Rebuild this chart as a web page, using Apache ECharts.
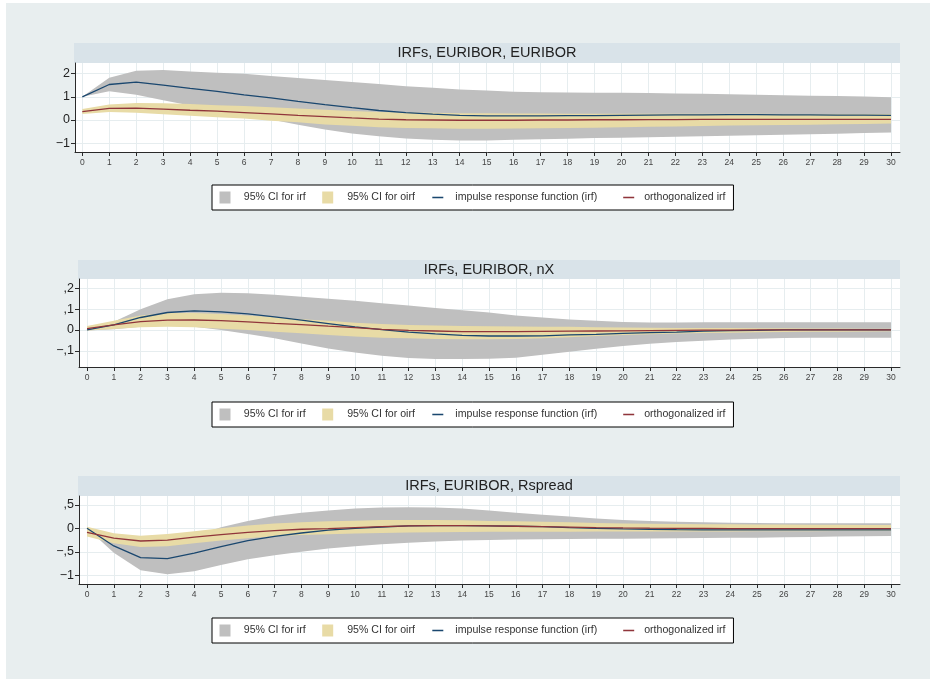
<!DOCTYPE html>
<html>
<head>
<meta charset="utf-8">
<script src="https://cdn.jsdelivr.net/npm/echarts@6/dist/echarts.min.js"></script>
<style>
  html, body { margin: 0; padding: 0; background: #ffffff; }
  #c { width: 930px; height: 679px; }
</style>
</head>
<body>
<div id="c"></div>
<script>
// Impulse-response horizon (steps)
const steps = [0,1,2,3,4,5,6,7,8,9,10,11,12,13,14,15,16,17,18,19,20,21,22,23,24,25,26,27,28,29,30];

// Legend entries
const legendNames = ['95% CI for irf', '95% CI for oirf', 'impulse response function (irf)', 'orthogonalized irf'];

// Panel 1: IRFs, EURIBOR, EURIBOR
const titleEE = 'IRFs, EURIBOR, EURIBOR';
const irfEE    = [1.00,1.53,1.63,1.50,1.36,1.23,1.08,0.95,0.80,0.66,0.53,0.41,0.32,0.25,0.20,0.18,0.18,0.18,0.19,0.19,0.20,0.21,0.22,0.22,0.23,0.23,0.22,0.22,0.21,0.21,0.20];
const irfHiEE  = [1.00,1.82,2.12,2.15,2.09,2.04,1.99,1.90,1.81,1.72,1.64,1.55,1.46,1.39,1.31,1.27,1.22,1.20,1.19,1.18,1.17,1.16,1.14,1.13,1.11,1.09,1.07,1.05,1.03,1.01,0.98];
const irfLoEE  = [1.00,1.24,1.09,0.85,0.62,0.42,0.22,0.02,-0.20,-0.41,-0.58,-0.70,-0.80,-0.85,-0.88,-0.88,-0.85,-0.83,-0.81,-0.78,-0.76,-0.74,-0.72,-0.70,-0.68,-0.66,-0.64,-0.61,-0.59,-0.56,-0.54];
const oirfEE   = [0.36,0.50,0.51,0.47,0.42,0.38,0.32,0.26,0.20,0.15,0.09,0.04,0.01,0.00,-0.01,-0.01,-0.01,0.00,0.00,0.01,0.01,0.02,0.02,0.03,0.03,0.03,0.03,0.03,0.03,0.03,0.03];
const oirfHiEE = [0.47,0.67,0.73,0.72,0.69,0.64,0.60,0.55,0.50,0.44,0.39,0.35,0.32,0.31,0.29,0.29,0.28,0.28,0.27,0.27,0.27,0.27,0.27,0.27,0.27,0.27,0.26,0.26,0.26,0.26,0.26];
const oirfLoEE = [0.26,0.34,0.31,0.25,0.18,0.12,0.06,-0.03,-0.10,-0.19,-0.25,-0.31,-0.34,-0.36,-0.38,-0.38,-0.37,-0.36,-0.34,-0.33,-0.31,-0.29,-0.28,-0.26,-0.24,-0.23,-0.21,-0.20,-0.18,-0.17,-0.15];
const yTicksEE = [-1, 0, 1, 2];
const yTextEE  = ['\u22121', '0', '1', '2'];

// Panel 2: IRFs, EURIBOR, nX
const titleEX = 'IRFs, EURIBOR, nX';
const irfEX    = [0.000,0.024,0.060,0.084,0.092,0.087,0.077,0.063,0.047,0.031,0.015,0.002,-0.010,-0.019,-0.026,-0.029,-0.029,-0.028,-0.024,-0.021,-0.016,-0.013,-0.010,-0.006,-0.003,-0.002,0.000,0.000,0.000,0.000,0.000];
const irfHiEX  = [0.008,0.040,0.100,0.148,0.172,0.179,0.177,0.169,0.160,0.150,0.140,0.129,0.118,0.106,0.095,0.084,0.070,0.060,0.050,0.044,0.038,0.036,0.036,0.037,0.037,0.037,0.037,0.037,0.037,0.037,0.037];
const irfLoEX  = [-0.003,0.003,0.016,0.023,0.016,0.000,-0.019,-0.040,-0.065,-0.089,-0.108,-0.124,-0.135,-0.140,-0.140,-0.138,-0.134,-0.119,-0.105,-0.090,-0.077,-0.066,-0.058,-0.052,-0.046,-0.042,-0.039,-0.038,-0.037,-0.037,-0.037];
const oirfEX   = [0.006,0.024,0.040,0.047,0.048,0.045,0.039,0.032,0.026,0.018,0.011,0.003,-0.002,-0.005,-0.008,-0.008,-0.008,-0.007,-0.006,-0.005,-0.004,-0.003,-0.002,-0.001,-0.001,0.000,0.000,0.000,0.000,0.000,0.000];
const oirfHiEX = [0.019,0.044,0.069,0.081,0.082,0.077,0.069,0.061,0.052,0.044,0.035,0.029,0.024,0.021,0.019,0.018,0.017,0.016,0.015,0.013,0.012,0.011,0.010,0.009,0.009,0.008,0.008,0.007,0.007,0.006,0.006];
const oirfLoEX = [-0.003,0.005,0.013,0.016,0.013,0.006,0.000,-0.008,-0.016,-0.024,-0.031,-0.037,-0.040,-0.044,-0.045,-0.045,-0.044,-0.040,-0.035,-0.029,-0.024,-0.020,-0.017,-0.015,-0.013,-0.011,-0.010,-0.009,-0.008,-0.007,-0.006];
const yTicksEX = [-0.1, 0, 0.1, 0.2];
const yTextEX  = ['\u2212,1', '0', ',1', ',2'];

// Panel 3: IRFs, EURIBOR, Rspread
const titleER = 'IRFs, EURIBOR, Rspread';
const irfER    = [0.000,-0.376,-0.624,-0.645,-0.530,-0.390,-0.260,-0.170,-0.100,-0.040,0.000,0.028,0.050,0.057,0.057,0.050,0.043,0.035,0.014,0.000,-0.014,-0.020,-0.028,-0.032,-0.035,-0.035,-0.035,-0.035,-0.035,-0.035,-0.035];
const irfHiER  = [0.000,-0.200,-0.320,-0.330,-0.170,0.020,0.156,0.260,0.330,0.380,0.420,0.440,0.450,0.440,0.420,0.380,0.330,0.290,0.250,0.210,0.177,0.156,0.140,0.128,0.120,0.110,0.106,0.106,0.106,0.106,0.106];
const irfLoER  = [0.000,-0.520,-0.890,-0.980,-0.915,-0.780,-0.660,-0.575,-0.500,-0.430,-0.380,-0.340,-0.305,-0.280,-0.260,-0.250,-0.240,-0.234,-0.230,-0.225,-0.220,-0.215,-0.210,-0.207,-0.203,-0.200,-0.193,-0.185,-0.177,-0.170,-0.163];
const oirfER   = [-0.085,-0.210,-0.270,-0.250,-0.190,-0.135,-0.085,-0.050,-0.020,-0.007,0.014,0.035,0.050,0.057,0.057,0.050,0.043,0.035,0.025,0.015,0.007,0.003,0.000,-0.003,-0.005,-0.007,-0.007,-0.007,-0.007,-0.007,-0.007];
const oirfHiER = [0.035,-0.106,-0.156,-0.120,-0.064,0.000,0.057,0.100,0.128,0.150,0.163,0.177,0.177,0.177,0.170,0.156,0.148,0.140,0.130,0.115,0.100,0.095,0.090,0.088,0.085,0.082,0.080,0.077,0.075,0.072,0.070];
const oirfLoER = [-0.177,-0.320,-0.400,-0.380,-0.320,-0.260,-0.210,-0.170,-0.140,-0.128,-0.113,-0.100,-0.092,-0.085,-0.078,-0.075,-0.073,-0.072,-0.071,-0.070,-0.070,-0.069,-0.068,-0.067,-0.066,-0.064,-0.062,-0.061,-0.059,-0.058,-0.057];
const yTicksER = [-1, -0.5, 0, 0.5];
const yTextER  = ['\u22121', '\u2212,5', '0', ',5'];

// ---- styling ----
const FONT = '"Liberation Sans", Arial, Helvetica, sans-serif';
const C_BG = '#e8eeef';
const C_BAR = '#d9e3e9';
const C_GRID = '#e6edef';
const C_AXIS = '#2a2a2a';
const C_IRF_CI = '#bfbfbf';
const C_OIRF_CI = '#e8dba6';
const C_IRF = '#1a476f';
const C_OIRF = '#90353b';

const panels = [
  { title: titleEE, irf: irfEE, lo: irfLoEE, hi: irfHiEE, oirf: oirfEE, olo: oirfLoEE, ohi: oirfHiEE,
    ticks: yTicksEE, text: yTextEE, yMin: -1.379, yMax: 2.457,
    top: 63, height: 89, left: 75, xMin: -0.271, xMax: 30.333, barTop: 43, legendTop: 185 },
  { title: titleEX, irf: irfEX, lo: irfLoEX, hi: irfHiEX, oirf: oirfEX, olo: oirfLoEX, ohi: oirfHiEX,
    ticks: yTicksEX, text: yTextEX, yMin: -0.178, yMax: 0.245,
    top: 279, height: 88, left: 79, xMin: -0.2985, xMax: 30.336, barTop: 260, legendTop: 402 },
  { title: titleER, irf: irfER, lo: irfLoER, hi: irfHiER, oirf: oirfER, olo: oirfLoER, ohi: oirfHiER,
    ticks: yTicksER, text: yTextER, yMin: -1.185, yMax: 0.687,
    top: 496, height: 88, left: 79, xMin: -0.2985, xMax: 30.336, barTop: 476, legendTop: 618 }
];
const RIGHT_EDGE = 900;

const pairs = (vals) => steps.map((s, i) => [s, vals[i]]);

// confidence band: one filled polygon (upper edge forward, lower edge back)
function bandSeries(i, name, lo, hi, color) {
  const rows = steps.map((s, k) => [s, lo[k], hi[k]]);
  return {
    type: 'custom', name: name, xAxisIndex: i, yAxisIndex: i, silent: true, animation: false,
    itemStyle: { color: color },
    encode: { x: 0, y: [1, 2] },
    data: rows,
    renderItem: (params, api) => {
      if (params.dataIndex !== 0) return null;
      const pts = [];
      rows.forEach(r => pts.push(api.coord([r[0], r[2]])));
      for (let k = rows.length - 1; k >= 0; k--) pts.push(api.coord([rows[k][0], rows[k][1]]));
      return { type: 'polygon', shape: { points: pts }, style: { fill: color, stroke: null } };
    }
  };
}

const grids = [], xAxes = [], yAxes = [], series = [], legends = [], graphics = [];

graphics.push({ type: 'rect', z: -10, silent: true,
  shape: { x: 6, y: 3, width: 930 - 6, height: 679 - 3 }, style: { fill: C_BG } });

// text offsets (left padding) and trailing gaps for each legend key
const legendPadLeft = [8.3, 9.0, 7.0, 5.0];
const legendGapAfter = [16.6, 17.4, 26, 0];
const rich = {};
legendPadLeft.forEach((p, k) => {
  rich['k' + k] = { padding: [0, 0, 0, p], fontFamily: FONT, fontSize: 10.6, color: '#333' };
  rich['g' + k] = { padding: [0, 0, 0, Math.max(0, legendGapAfter[k] - 2.95)], fontFamily: FONT, fontSize: 10.6 };
});

panels.forEach((p, i) => {
  grids.push({ left: p.left, width: RIGHT_EDGE - p.left, top: p.top, height: p.height,
    show: true, backgroundColor: '#ffffff', borderWidth: 0 });

  xAxes.push({ type: 'value', gridIndex: i, min: p.xMin, max: p.xMax,
    axisLine: { show: true, onZero: false, lineStyle: { color: C_AXIS, width: 1 } },
    axisTick: { show: true, length: 4, customValues: steps, lineStyle: { color: C_AXIS } },
    axisLabel: { customValues: steps, fontSize: 8.5, fontFamily: FONT, color: '#444', margin: 6 },
    splitLine: { show: true, lineStyle: { color: C_GRID, width: 1 } } });

  yAxes.push({ type: 'value', gridIndex: i, min: p.yMin, max: p.yMax,
    axisLine: { show: true, onZero: false, lineStyle: { color: C_AXIS, width: 1 } },
    axisTick: { show: true, length: 4, customValues: p.ticks, lineStyle: { color: C_AXIS } },
    axisLabel: { customValues: p.ticks, fontSize: 12.5, fontFamily: FONT, color: '#222', margin: 5,
      formatter: (v) => { const k = p.ticks.findIndex(t => Math.abs(t - v) < 1e-9); return k >= 0 ? p.text[k] : ''; } },
    splitLine: { show: true, lineStyle: { color: C_GRID, width: 1 } } });

  series.push(bandSeries(i, legendNames[0], p.lo, p.hi, C_IRF_CI));
  series.push(bandSeries(i, legendNames[1], p.olo, p.ohi, C_OIRF_CI));

  const base = { type: 'line', xAxisIndex: i, yAxisIndex: i, symbol: 'none', showSymbol: false,
    silent: true, animation: false };
  series.push(Object.assign({}, base, { name: legendNames[2], data: pairs(p.irf), color: C_IRF,
    lineStyle: { color: C_IRF, width: 1.3 } }));
  series.push(Object.assign({}, base, { name: legendNames[3], data: pairs(p.oirf), color: C_OIRF,
    lineStyle: { color: C_OIRF, width: 1.3 } }));

  // title band above the plot area
  graphics.push({ type: 'rect', silent: true,
    shape: { x: p.left - 1, y: p.barTop, width: RIGHT_EDGE - p.left + 1, height: p.top - p.barTop },
    style: { fill: C_BAR } });
  graphics.push({ type: 'text', silent: true,
    x: (p.left - 1 + RIGHT_EDGE) / 2, y: (p.barTop + p.top) / 2,
    style: { text: p.title, fill: '#222', font: '14.5px ' + FONT, textAlign: 'center', textVerticalAlign: 'middle' } });

  legends.push({ show: true, left: 212, top: p.legendTop, orient: 'horizontal',
    padding: [6.5, 8, 6.5, 7.5], itemGap: 0, itemWidth: 11, itemHeight: 12,
    backgroundColor: '#ffffff', borderColor: '#000000', borderWidth: 1, borderRadius: 0,
    selectedMode: false,
    data: [
      { name: legendNames[0], icon: 'rect', itemStyle: { color: C_IRF_CI, borderWidth: 0 } },
      { name: legendNames[1], icon: 'rect', itemStyle: { color: C_OIRF_CI, borderWidth: 0 } },
      { name: legendNames[2], icon: 'path://M0,0H10V1.4H0Z', itemStyle: { color: C_IRF, borderWidth: 0 } },
      { name: legendNames[3], icon: 'path://M0,0H10V1.4H0Z', itemStyle: { color: C_OIRF, borderWidth: 0 } }
    ],
    formatter: (name) => {
      const k = legendNames.indexOf(name);
      return '{k' + k + '|' + name + '}' + (legendGapAfter[k] > 0 ? '{g' + k + '| }' : '');
    },
    textStyle: { fontFamily: FONT, fontSize: 10.6, color: '#333', rich: rich } });
});

const chart = echarts.init(document.getElementById('c'), null, { renderer: 'canvas', width: 930, height: 679 });
chart.setOption({
  backgroundColor: '#ffffff',
  animation: false,
  grid: grids,
  xAxis: xAxes,
  yAxis: yAxes,
  series: series,
  legend: legends,
  graphic: graphics
});
</script>
</body>
</html>
